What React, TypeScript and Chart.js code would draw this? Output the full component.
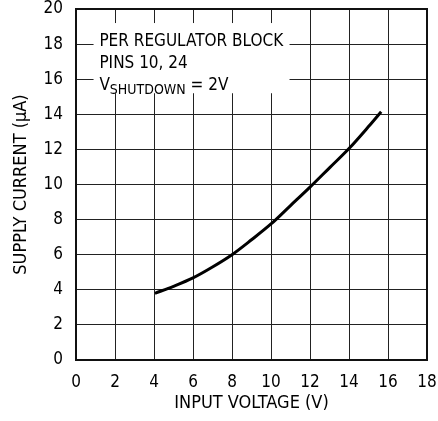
import React, { useEffect, useRef } from "react";
import { Chart, registerables } from "chart.js";

Chart.register(...registerables);

const inputVoltage = [4.05, 5, 6, 7, 8, 9, 10, 11, 12, 13, 14, 15, 15.65];
const supplyCurrent = [3.8, 4.2, 4.68, 5.3, 6.0, 6.85, 7.75, 8.8, 9.85, 10.95, 12.05, 13.3, 14.15];
const xTicks = [0, 2, 4, 6, 8, 10, 12, 14, 16, 18];
const yTicks = [0, 2, 4, 6, 8, 10, 12, 14, 16, 18, 20];
const noteLines = ["PER REGULATOR BLOCK", "PINS 10, 24"];
const FONT = "'DejaVu Sans Condensed', 'Liberation Sans Narrow', 'Liberation Sans', sans-serif";

const annotationPlugin = {
  id: "annot",
  afterDraw(chart: any) {
    const { ctx, scales } = chart;
    const x = scales.x;
    const y = scales.y;
    const left = x.getPixelForValue(0.9);
    const right = x.getPixelForValue(10.95);
    const top = y.getPixelForValue(19.2);
    const bottom = y.getPixelForValue(15.2);
    ctx.save();
    ctx.fillStyle = "#ffffff";
    ctx.fillRect(left, top, right - left, bottom - top);
    ctx.fillStyle = "#000";
    ctx.font = `17px ${FONT}`;
    ctx.textBaseline = "alphabetic";
    const tx = x.getPixelForValue(1.2);
    ctx.fillText(noteLines[0], tx, y.getPixelForValue(17.9));
    ctx.fillText(noteLines[1], tx, y.getPixelForValue(16.65));
    const by = y.getPixelForValue(15.4);
    ctx.fillText("V", tx, by);
    let cx = tx + ctx.measureText("V").width;
    ctx.font = `14px ${FONT}`;
    ctx.fillText("SHUTDOWN", cx, by + 4);
    cx += ctx.measureText("SHUTDOWN").width;
    ctx.font = `17px ${FONT}`;
    ctx.fillText(" = 2V", cx, by);
    ctx.restore();
  },
};

export default function App() {
  const ref = useRef<HTMLCanvasElement | null>(null);
  useEffect(() => {
    if (!ref.current) return;
    const chart = new Chart(ref.current, {
      type: "scatter",
      data: {
        datasets: [
          {
            data: inputVoltage.map((v, i) => ({ x: v, y: supplyCurrent[i] })),
            showLine: true,
            borderColor: "#000",
            borderWidth: 3,
            pointRadius: 0,
            cubicInterpolationMode: "monotone",
          } as any,
        ],
      },
      options: {
        animation: false,
        responsive: false,
        devicePixelRatio: 1,
        layout: { padding: { left: 0, top: 9, right: 11, bottom: 0 } },
        plugins: { legend: { display: false }, tooltip: { enabled: false } },
        scales: {
          x: {
            type: "linear",
            min: 0,
            max: 18,
            afterBuildTicks: (s: any) => {
              s.ticks = xTicks.map((v) => ({ value: v }));
            },
            afterFit: (s: any) => {
              s.height = 61;
              s.paddingLeft = 0;
              s.paddingRight = 0;
            },
            grid: { color: "#222", lineWidth: 1, drawTicks: false },
            border: { color: "#111", width: 2 },
            ticks: { color: "#000", padding: 12, font: { family: FONT, size: 17 }, maxRotation: 0 },
            title: {
              display: true,
              text: "INPUT VOLTAGE (V)",
              color: "#000",
              font: { family: FONT, size: 18 },
              padding: { top: 2, bottom: 7 },
            },
          },
          y: {
            type: "linear",
            min: 0,
            max: 20,
            afterBuildTicks: (s: any) => {
              s.ticks = yTicks.map((v) => ({ value: v }));
            },
            afterFit: (s: any) => {
              s.width = 76;
              s.paddingTop = 0;
              s.paddingBottom = 0;
            },
            grid: { color: "#222", lineWidth: 1, drawTicks: false },
            border: { color: "#111", width: 2 },
            ticks: { color: "#000", padding: 13, font: { family: FONT, size: 17 } },
            title: {
              display: true,
              text: "SUPPLY CURRENT (µA)",
              color: "#000",
              font: { family: FONT, size: 18 },
              padding: { top: 11, bottom: 0 },
            },
          },
        },
      },
      plugins: [
        annotationPlugin,
        {
          id: "rightTopBorder",
          afterDatasetsDraw(chart: any) {
            const { ctx, chartArea } = chart;
            ctx.save();
            ctx.strokeStyle = "#111";
            ctx.lineWidth = 2;
            ctx.beginPath();
            ctx.moveTo(chartArea.left, chartArea.top);
            ctx.lineTo(chartArea.right, chartArea.top);
            ctx.lineTo(chartArea.right, chartArea.bottom);
            ctx.stroke();
            ctx.restore();
          },
        },
      ],
    });
    return () => chart.destroy();
  }, []);
  return (
    <div style={{ position: "fixed", left: 0, top: 0, width: 438, height: 421, background: "#fff" }}>
      <canvas ref={ref} width={438} height={421} style={{ width: 438, height: 421 }} />
    </div>
  );
}
